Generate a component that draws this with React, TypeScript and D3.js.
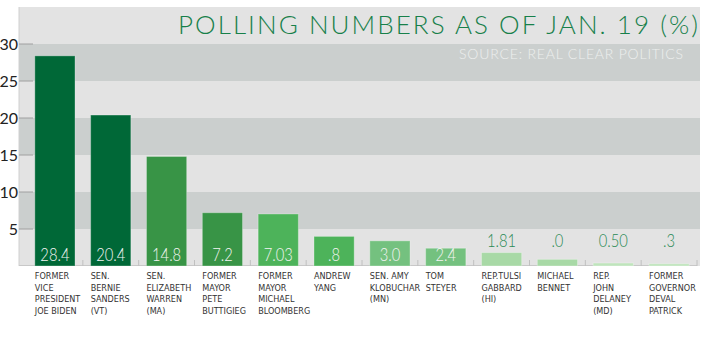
import React from "react";
import * as d3 from "d3";

const categories: string[][] = [
  ["FORMER", "VICE", "PRESIDENT", "JOE BIDEN"],
  ["SEN.", "BERNIE", "SANDERS", "(VT)"],
  ["SEN.", "ELIZABETH", "WARREN", "(MA)"],
  ["FORMER", "MAYOR", "PETE", "BUTTIGIEG"],
  ["FORMER", "MAYOR", "MICHAEL", "BLOOMBERG"],
  ["ANDREW", "YANG"],
  ["SEN. AMY", "KLOBUCHAR", "(MN)"],
  ["TOM", "STEYER"],
  ["REP.TULSI", "GABBARD", "(HI)"],
  ["MICHAEL", "BENNET"],
  ["REP.", "JOHN", "DELANEY", "(MD)"],
  ["FORMER", "GOVERNOR", "DEVAL", "PATRICK"],
];
const values: number[] = [28.4, 20.4, 14.8, 7.2, 7.03, 4.0, 3.4, 2.4, 1.81, 0.9, 0.4, 0.3];
const valueLabels: string[] = ["28.4", "20.4", "14.8", "7.2", "7.03", ".8", "3.0", "2.4", "1.81", ".0", "0.50", ".3"];
const barColors: string[] = [
  "#006837", "#006837", "#389446", "#389446", "#4db35a", "#4db35a",
  "#74c17f", "#74c17f", "#a8d9a6", "#a8d9a6", "#bfe4bc", "#bfe4bc",
];
const labelInside: boolean[] = [true, true, true, true, true, true, true, true, false, false, false, false];
const yTicks: number[] = [5, 10, 15, 20, 25, 30];
const bandEdges: number[] = [0, 5, 10, 15, 20, 25, 30, 35];

const title = "POLLING NUMBERS AS OF JAN. 19 (%)";
const subtitle = "SOURCE: REAL CLEAR POLITICS";

export default function App() {
  const W = 720, H = 338;
  const plotL = 19, plotR = 700, plotT = 7, plotB = 266;
  const y = d3.scaleLinear().domain([0, 35]).range([plotB, plotT]);
  const idx = categories.map((_, i) => String(i));
  const x = d3.scaleBand<string>().domain(idx).range([27, 697]).paddingInner(0.28).paddingOuter(0.14);
  const step = x.step();
  const font = "Lato, 'Open Sans', sans-serif";
  const narrow = "'Liberation Sans Narrow', 'DejaVu Sans Condensed', Roboto, sans-serif";

  return (
    <svg width={W} height={H} style={{ position: "absolute", left: 0, top: 0, background: "#fff" }}>
      {bandEdges.slice(0, -1).map((v, i) => (
        <rect key={"b" + i} x={plotL} width={plotR - plotL} y={y(bandEdges[i + 1])}
          height={y(v) - y(bandEdges[i + 1])} fill={i % 2 === 0 ? "#e3e3e3" : "#cbcfce"} />
      ))}
      <line x1={plotL} x2={plotL} y1={plotT} y2={plotB} stroke="#d0d0d0" />
      {yTicks.map((t) => (
        <g key={"t" + t}>
          <line x1={plotL} x2={plotL + 14} y1={y(t)} y2={y(t)} stroke="#a0a0a0" />
          <text x={18} y={y(t) + 5.5} textAnchor="end" fontFamily={font} fontSize={16} fill="#222">{t}</text>
        </g>
      ))}
      <line x1={plotL} x2={697} y1={plotB - 0.5} y2={plotB - 0.5} stroke="#c8c8c8" />
      {idx.map((d, i) => {
        const edge = 27 + step * (i + 1);
        return <line key={"xt" + i} x1={edge} x2={edge} y1={plotB - 6} y2={plotB} stroke="#c0c0c0" />;
      })}
      {values.map((v, i) => {
        const bx = x(String(i))!;
        const bw = x.bandwidth();
        const cx = bx + bw / 2;
        return (
          <g key={"bar" + i}>
            <rect x={bx} y={y(v)} width={bw} height={plotB - y(v)} fill={barColors[i]}
              stroke="rgba(255,255,255,0.3)" strokeWidth={1} />
            {labelInside[i] ? (
              <text transform={`translate(${cx},${plotB - 5}) scale(0.82,1)`} textAnchor="middle" fontFamily={font}
                fontSize={18} fill="#f4f4f4" fontWeight={300}>{valueLabels[i]}</text>
            ) : (
              <text transform={`translate(${cx},247) scale(0.82,1)`} textAnchor="middle" fontFamily={font}
                fontSize={18} fill="#2a8a55" fontWeight={300}>{valueLabels[i]}</text>
            )}
            {categories[i].map((line, j) => (
              <text key={j} x={bx} y={279 + j * 11.5} fontFamily={narrow} fontSize={9} fill="#333">{line}</text>
            ))}
          </g>
        );
      })}
      <text x={698} y={34} textAnchor="end" fontFamily={font} fontWeight={300} fontSize={26}
        fill="#17804a" textLength={520} lengthAdjust="spacing">{title}</text>
      <text x={683} y={59} textAnchor="end" fontFamily={font} fontWeight={300} fontSize={14}
        fill="#eef0ef" textLength={224} lengthAdjust="spacing">{subtitle}</text>
    </svg>
  );
}
